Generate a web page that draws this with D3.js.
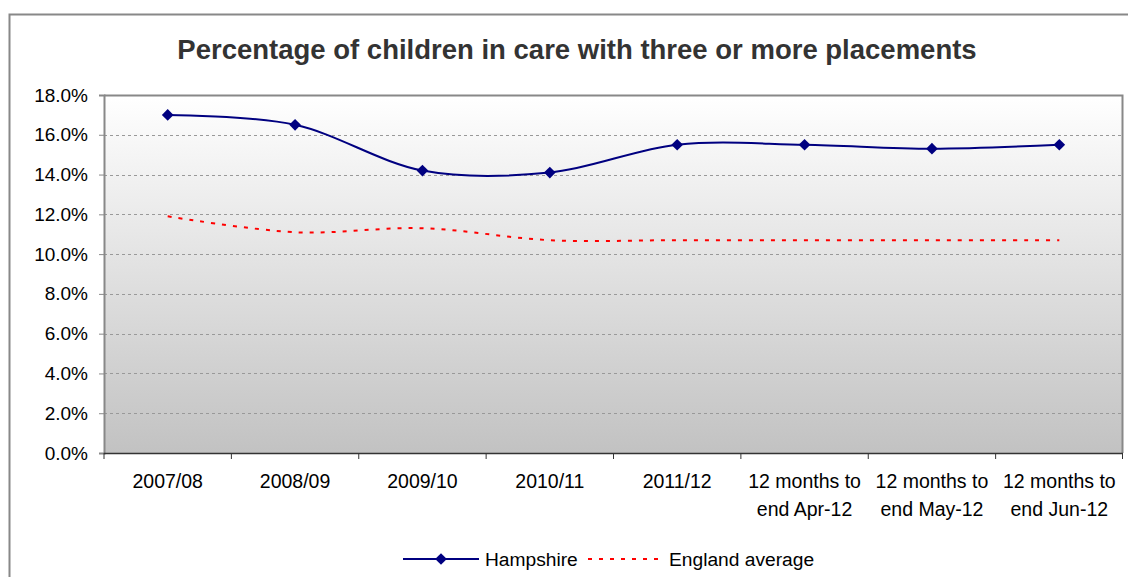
<!DOCTYPE html>
<html>
<head>
<meta charset="utf-8">
<script src="https://cdn.jsdelivr.net/npm/d3@7"></script>
<style>
  body { margin: 0; background: #fff; }
  svg { display: block; font-family: "Liberation Sans", Arial, sans-serif; }
  .grid line { stroke: #999; stroke-dasharray: 3,3; }
</style>
</head>
<body>
<svg id="chart" width="1128" height="577"></svg>
<script>
// chart data
const categories = ["2007/08", "2008/09", "2009/10", "2010/11", "2011/12",
  "12 months to\nend Apr-12", "12 months to\nend May-12", "12 months to\nend Jun-12"];
const hampshire = [17.0, 16.5, 14.2, 14.1, 15.5, 15.5, 15.3, 15.5];
const england = [11.9, 11.1, 11.3, 10.7, 10.7, 10.7, 10.7, 10.7];
const yTicks = [0, 2, 4, 6, 8, 10, 12, 14, 16, 18];

const svg = d3.select('#chart');
const margin = {left: 104, top: 95, right: 1123, bottom: 453};
const plotW = margin.right - margin.left;
const plotH = margin.bottom - margin.top;

// outer frame
svg.append('rect')
  .attr('x', 9.5).attr('y', 14.5)
  .attr('width', 1130).attr('height', 580)
  .attr('fill', '#fff').attr('stroke', '#888').attr('stroke-width', 2);

// title
svg.append('text')
  .attr('x', 577).attr('y', 59)
  .attr('text-anchor', 'middle')
  .attr('font-size', 27.5).attr('font-weight', 'bold')
  .attr('fill', '#333')
  .text('Percentage of children in care with three or more placements');

const x = d3.scaleBand().domain(categories).range([margin.left, margin.right]).padding(0);
const y = d3.scaleLinear().domain([0, 18]).range([margin.bottom, margin.top]);
const cx = c => x(c) + x.bandwidth() / 2;

// plot background gradient
const grad = svg.append('defs').append('linearGradient')
  .attr('id', 'bg').attr('x1', 0).attr('y1', 0).attr('x2', 0).attr('y2', 1);
grad.append('stop').attr('offset', '0%').attr('stop-color', '#ffffff');
grad.append('stop').attr('offset', '100%').attr('stop-color', '#c2c2c2');

svg.append('rect')
  .attr('x', margin.left).attr('y', margin.top)
  .attr('width', plotW).attr('height', plotH)
  .attr('fill', 'url(#bg)');

// gridlines
svg.append('g').attr('class', 'grid')
  .selectAll('line')
  .data(yTicks.filter(d => d > 0 && d < 18))
  .enter().append('line')
  .attr('x1', margin.left).attr('x2', margin.right)
  .attr('y1', d => Math.round(y(d)) + 0.5).attr('y2', d => Math.round(y(d)) + 0.5);

// plot border (top, right)
svg.append('path')
  .attr('d', `M${margin.left},${margin.top + 0.5}H${margin.right - 0.5}V${margin.bottom}`)
  .attr('fill', 'none').attr('stroke', '#888').attr('stroke-width', 2);

// y axis
const yAxis = svg.append('g')
  .attr('transform', `translate(${margin.left},0)`)
  .call(d3.axisLeft(y).tickValues(yTicks).tickSize(5).tickPadding(11)
    .tickFormat(d => d.toFixed(1) + '%'));
yAxis.select('.domain').attr('stroke', '#888').attr('stroke-width', 2);
yAxis.selectAll('.tick line').attr('stroke', '#888');
yAxis.selectAll('text').attr('font-size', 19).attr('fill', '#000')
  .attr('font-family', '"Liberation Sans", Arial, sans-serif');

// x axis: ticks between categories
const xAxis = svg.append('g');
xAxis.append('line')
  .attr('x1', margin.left).attr('x2', margin.right)
  .attr('y1', margin.bottom + 0.5).attr('y2', margin.bottom + 0.5)
  .attr('stroke', '#333').attr('stroke-width', 1.5);
const bounds = categories.map(c => x(c)).concat([margin.right - 0.5]);
xAxis.selectAll('.xtick').data(bounds).enter().append('line')
  .attr('class', 'xtick')
  .attr('x1', d => d).attr('x2', d => d)
  .attr('y1', margin.bottom).attr('y2', margin.bottom + 6)
  .attr('stroke', '#333');
xAxis.selectAll('.xlabel').data(categories).enter().append('text')
  .attr('class', 'xlabel')
  .attr('text-anchor', 'middle')
  .attr('font-size', 19.5)
  .each(function(c) {
    const lines = c.split('\n');
    d3.select(this).selectAll('tspan').data(lines).enter().append('tspan')
      .attr('x', cx(c))
      .attr('y', (d, i) => 488 + i * 28)
      .text(d => d);
  });

// lines
const line = d3.line()
  .x((d, i) => cx(categories[i]))
  .y(d => y(d))
  .curve(d3.curveCardinal.tension(0));

svg.append('path')
  .datum(england)
  .attr('d', line)
  .attr('fill', 'none').attr('stroke', '#ff0000').attr('stroke-width', 2)
  .attr('stroke-dasharray', '4,7');

svg.append('path')
  .datum(hampshire)
  .attr('d', line)
  .attr('fill', 'none').attr('stroke', '#000080').attr('stroke-width', 2);

// square rotated 45deg, like Excel's diamond marker
const diamond = d3.symbol().type(d3.symbolSquare).size(68);
svg.selectAll('.marker').data(hampshire).enter().append('path')
  .attr('class', 'marker')
  .attr('transform', (d, i) => `translate(${cx(categories[i])},${y(d)}) rotate(45)`)
  .attr('d', diamond)
  .attr('fill', '#000080');

// legend
const legendY = 559;
const lg = svg.append('g');
lg.append('line').attr('x1', 403).attr('x2', 479).attr('y1', legendY).attr('y2', legendY)
  .attr('stroke', '#000080').attr('stroke-width', 2);
lg.append('path').attr('transform', `translate(441,${legendY}) rotate(45)`).attr('d', diamond).attr('fill', '#000080');
lg.append('text').attr('x', 485).attr('y', legendY + 7).attr('font-size', 19.2).text('Hampshire');
lg.append('line').attr('x1', 588).attr('x2', 658).attr('y1', legendY).attr('y2', legendY)
  .attr('stroke', '#ff0000').attr('stroke-width', 2).attr('stroke-dasharray', '4,7');
lg.append('text').attr('x', 669).attr('y', legendY + 7).attr('font-size', 19.2).text('England average');
</script>
</body>
</html>
